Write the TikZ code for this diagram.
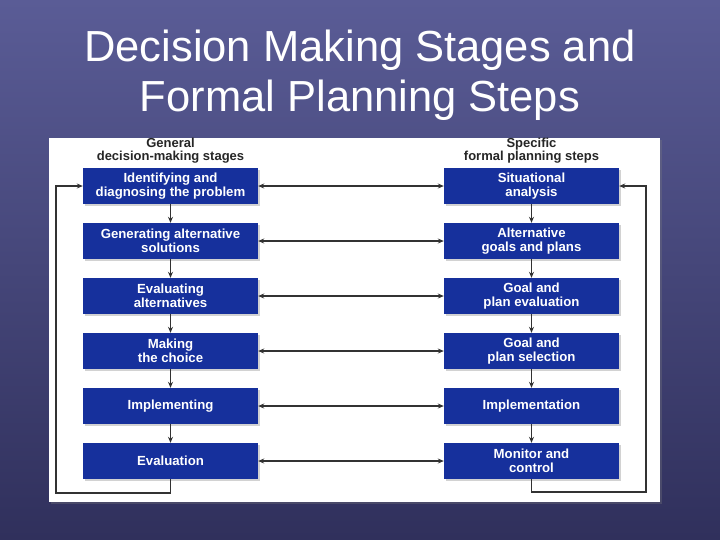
\documentclass[tikz,border=0pt]{standalone}
\usepackage{fontspec}
\setmainfont{Liberation Sans}
\usetikzlibrary{arrows.meta,shadows}
\definecolor{slidetop}{RGB}{90,92,150}
\definecolor{slidebot}{RGB}{48,48,92}
\definecolor{boxblue}{RGB}{22,48,156}
\definecolor{linegray}{RGB}{50,50,50}
\begin{document}
\begin{tikzpicture}[x=1pt,y=-1pt,
  stage/.style={fill=boxblue,text=white,font=\bfseries\fontsize{13.2}{14}\selectfont,
    minimum width=175pt,minimum height=36pt,inner sep=0pt,align=center,
    drop shadow={shadow xshift=1.5pt,shadow yshift=-1.5pt,opacity=0.35}},
  head/.style={text=black!85,font=\bfseries\fontsize{13}{13}\selectfont,align=center},
  title/.style={text=white,font=\fontsize{43.5}{50}\selectfont,anchor=base},
  link/.style={line width=1.3pt,draw=linegray,-{Stealth[length=6pt,width=5pt]}}]
\useasboundingbox (0,0) rectangle (720,539);
\shade[top color=slidetop,bottom color=slidebot] (0,0) rectangle (720,539);
% title
\node[title] (title1) at (360,61) {Decision Making Stages and};
\node[title] (title2) at (360,111) {Formal Planning Steps};
% white panel
\fill[white,drop shadow={shadow xshift=1.5pt,shadow yshift=-1.5pt,opacity=0.3}] (49,138) rectangle (660,502);
\node[head] (genhead) at (170.5,151) {General\\decision-making stages};
\node[head] (planhead) at (531.5,151) {Specific\\formal planning steps};
% the two columns of boxes
\foreach \lt/\rt [count=\i] in {{Identifying and\\diagnosing the problem}/{Situational\\analysis},
    {Generating alternative\\solutions}/{Alternative\\goals and plans},
    {Evaluating\\alternatives}/{Goal and\\plan evaluation},
    {Making\\the choice}/{Goal and\\plan selection},
    {Implementing}/{Implementation},
    {Evaluation}/{Monitor and\\control}}{
  \node[stage] (gen\i) at (170.5,{186+55*(\i-1)}) {\lt};
  \node[stage] (plan\i) at (531.5,{186+55*(\i-1)}) {\rt};
}
\foreach \i/\j in {1/2,2/3,3/4,4/5,5/6}{
  \draw[link] (gen\i) -- (gen\j);
  \draw[link] (plan\i) -- (plan\j);
}
\foreach \i in {1,...,6}
  \draw[link,{Stealth[length=6pt,width=5pt]}-{Stealth[length=6pt,width=5pt]}] (gen\i) -- (plan\i);
% feedback loops
\coordinate (genloop) at (56,493);
\coordinate (planloop) at (646,492);
\draw[link] (gen6.south) |- (genloop) |- (gen1.west);
\draw[link] (plan6.south) |- (planloop) |- (plan1.east);
\end{tikzpicture}
\end{document}
